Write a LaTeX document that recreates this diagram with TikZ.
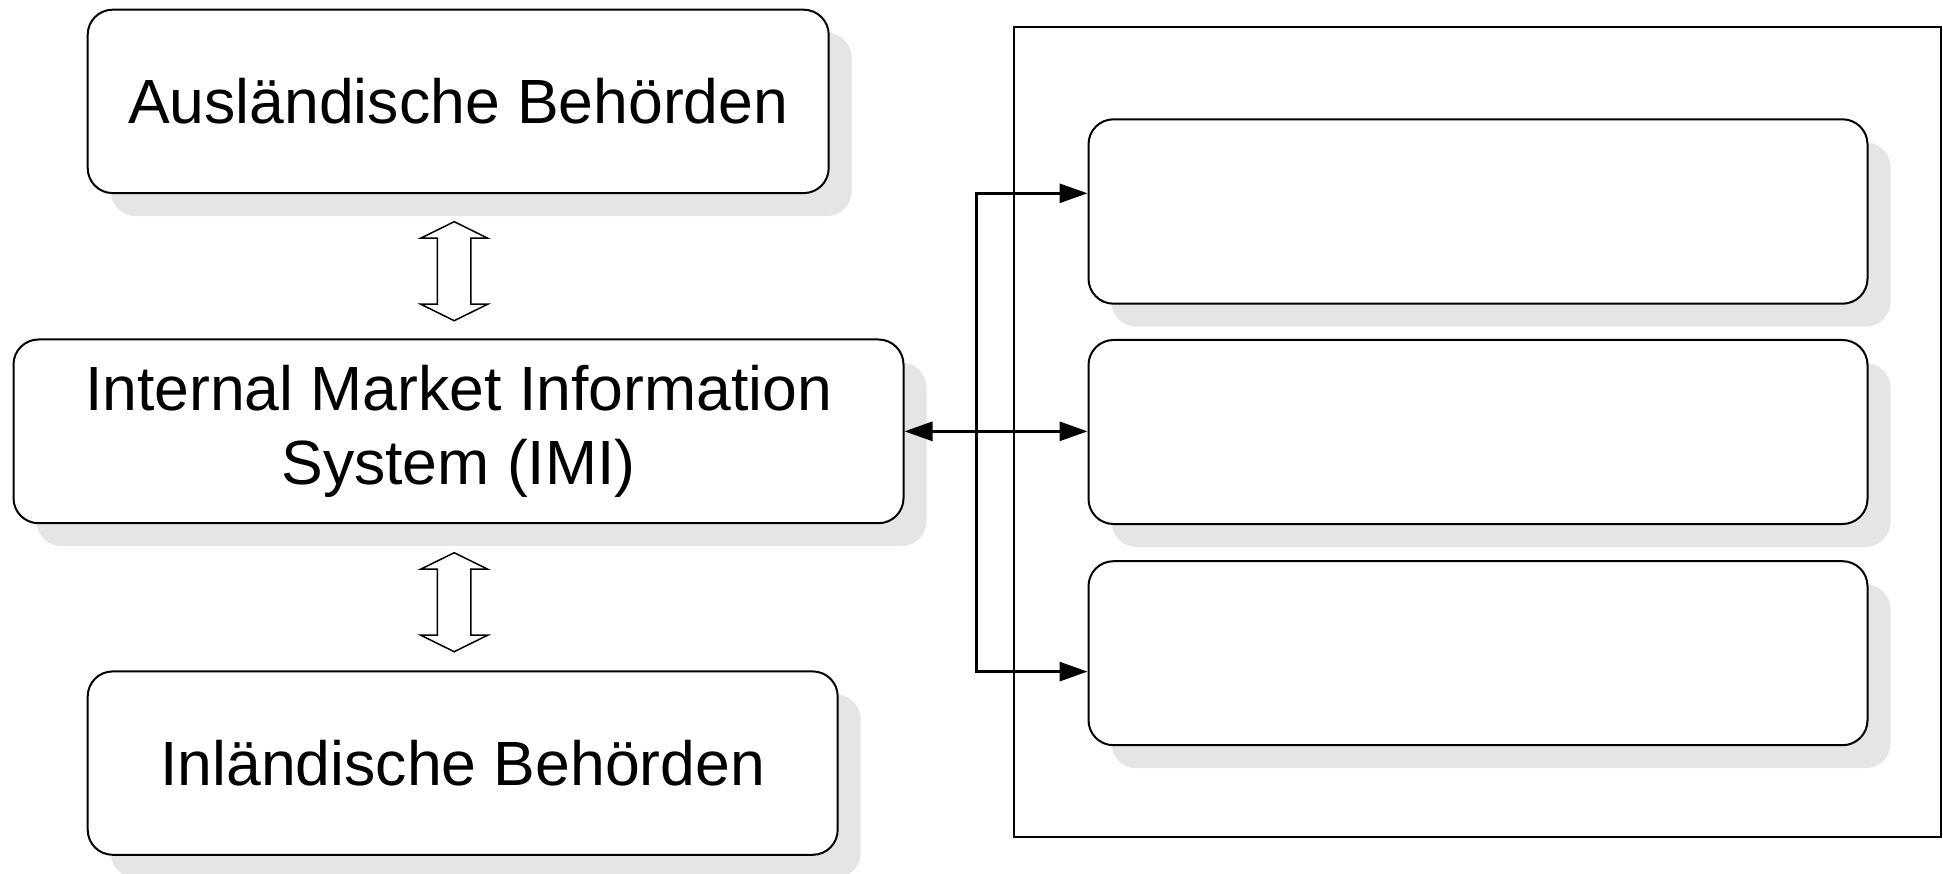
\documentclass[tikz,border=0pt]{standalone}
\usepackage{fontspec}
\setmainfont{Liberation Sans}
\usetikzlibrary{arrows.meta,shadows,calc}
\definecolor{shadowgray}{RGB}{229,229,229}
\begin{document}
\begin{tikzpicture}[x=1pt,y=-1pt,
  box/.style={draw, line width=2pt, rounded corners=25pt, fill=white, inner sep=0pt,
    anchor=north west, align=center, font=\fontsize{62.5}{74}\selectfont,
    drop shadow={shadow xshift=23pt, shadow yshift=-23pt, fill=shadowgray, opacity=1}},
  tipA/.tip={Triangle[length=28pt,width=19pt]},
  conn/.style={line width=3pt, -tipA},
  hollow/.style={draw, line width=1.5pt, fill=white, line join=miter}]
\useasboundingbox (0,0) rectangle (1943,874);

% frame
\node[draw, line width=2pt, anchor=north west, minimum width=926.6pt, minimum height=810pt, inner sep=0pt] (frame) at (1013.3,26.2) {};

% left boxes
\node[box, minimum width=741pt, minimum height=183.4pt] (aus) at (86.7,8.7) {Ausländische Behörden};
\node[box, minimum width=890pt, minimum height=183.7pt] (imi) at (12.5,338.5) {Internal Market Information\\System (IMI)};
\node[box, minimum width=750pt, minimum height=183.4pt] (inl) at (86.7,670.4) {Inländische Behörden};

% right boxes
\node[box, minimum width=779pt, minimum height=184.4pt] (r1) at (1087.5,118.3) {};
\node[box, minimum width=779pt, minimum height=184pt] (r2) at (1087.5,339) {};
\node[box, minimum width=779pt, minimum height=184pt] (r3) at (1087.5,560.2) {};

% hollow double arrows
\coordinate (a1) at (454.2,271.2);
\coordinate (a2) at (454.2,602.2);
\foreach \c in {a1,a2}{
  \draw[hollow] (\c) ++(0,-49.5) -- ++(33.5,16.5) -- ++(-16.8,0) -- ++(0,66) -- ++(16.8,0)
    -- ++(-33.5,16.5) -- ++(-33.5,-16.5) -- ++(16.7,0) -- ++(0,-66) -- ++(-16.7,0) -- cycle;
}

% connectors
\coordinate (bus) at ($(imi.east -| frame.west)+(-36.7,0)$);
\draw[line width=3pt, tipA-tipA] (imi.east) -- (imi.east -| r2.west);
\draw[conn] (bus) |- ($(r1.west)+(0,-18.2)$);
\draw[conn] (bus) |- ($(r3.west)+(0,18.4)$);
\end{tikzpicture}
\end{document}
